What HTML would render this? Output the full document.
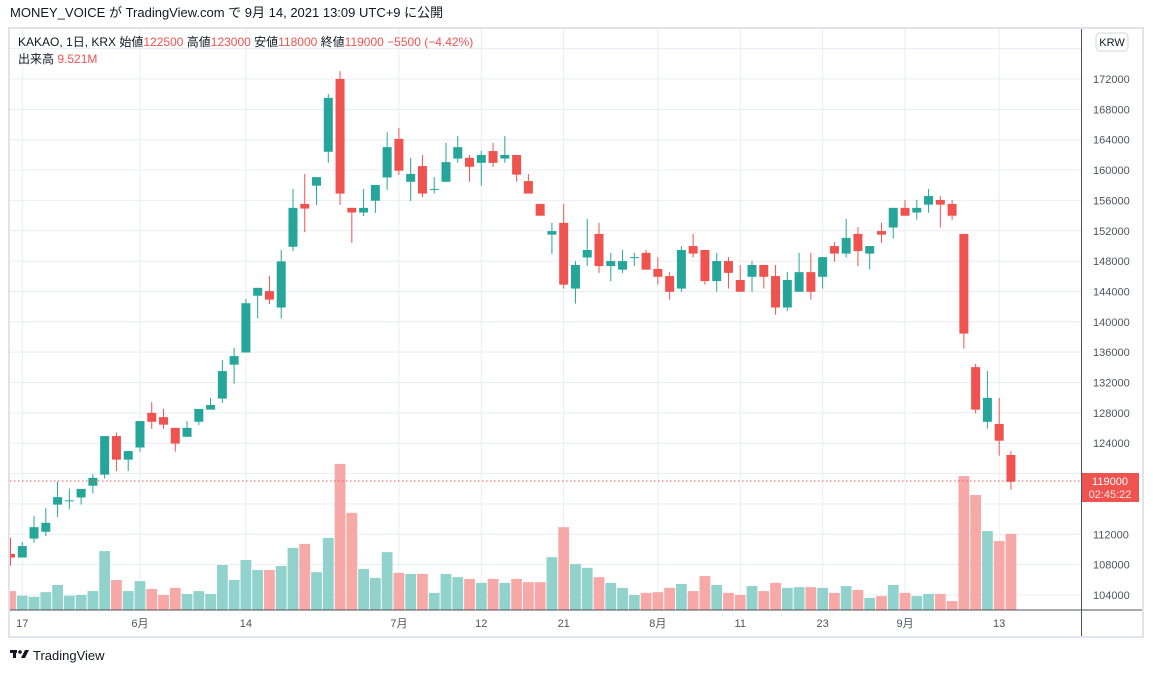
<!DOCTYPE html>
<html><head><meta charset="utf-8">
<style>
html,body{margin:0;padding:0;background:#fff;width:1153px;height:673px;overflow:hidden;font-family:"Liberation Sans","Noto Sans CJK JP",sans-serif;}
svg{position:absolute;left:0;top:0;}
</style></head><body>
<svg id="s" width="1153" height="673" xmlns="http://www.w3.org/2000/svg" font-family="Liberation Sans, Noto Sans CJK JP, sans-serif">
<rect x="0" y="0" width="1153" height="673" fill="#fff"/>
<text x="10" y="17" font-size="13" fill="#131722">MONEY_VOICE が TradingView.com で 9月 14, 2021 13:09 UTC+9 に公開</text>
<rect x="9" y="28" width="1134" height="609" fill="#fff" stroke="#e0e3eb" stroke-width="2"/>
<g id="grid"></g>
<g id="vol"></g>
<g id="candles"></g>
<line x1="10" y1="481" x2="1081" y2="481" stroke="#ef5350" stroke-width="1" stroke-dasharray="1.5,2.5"/>
<line x1="10" y1="610" x2="1142" y2="610" stroke="#50535e" stroke-width="1"/>
<line x1="1081.5" y1="29" x2="1081.5" y2="636" stroke="#50535e" stroke-width="1"/>
<g id="axis" font-size="11" fill="#50535e"></g>
<rect x="1096" y="33" width="32" height="18" rx="4" fill="#fff" stroke="#d1d4dc"/>
<text x="1112" y="46" font-size="11" fill="#131722" text-anchor="middle">KRW</text>
<rect x="1082" y="473" width="57" height="29" fill="#ef5350"/>
<text x="1110" y="485" font-size="11" fill="#fff" text-anchor="middle">119000</text>
<text x="1110" y="498" font-size="11" fill="#fde3e2" text-anchor="middle">02:45:22</text>
<text x="18" y="46" font-size="12" fill="#131722">KAKAO, 1日, KRX  <tspan>始値</tspan><tspan fill="#ef5350">122500</tspan>  高値<tspan fill="#ef5350">123000</tspan>  安値<tspan fill="#ef5350">118000</tspan>  終値<tspan fill="#ef5350">119000  −5500 (−4.42%)</tspan></text>
<text x="18" y="63" font-size="12" fill="#131722">出来高  <tspan fill="#ef5350">9.521M</tspan></text>
<g transform="translate(10,650)"><rect x="0" y="0" width="7" height="3" fill="#131722"/><rect x="3" y="0" width="3" height="8" fill="#131722"/><circle cx="10" cy="2" r="1.8" fill="#131722"/><polygon points="11,8 15,0 19,0 15,8" fill="#131722"/></g>
<text x="33" y="660" font-size="13" fill="#131722">TradingView</text>
</svg>
<script>
var d=[
[1383,1393,1338,1416,'r',1487],[1361,1393,1350,1393,'g',1500],[1308,1340,1277,1352,'g',1503],[1296,1321,1254,1333,'g',1490],
[1224,1245,1180,1280,'g',1470],[1233,1235,1200,1257,'g',1500],[1201,1225,1201,1245,'g',1498],[1170,1192,1160,1214,'g',1487],
[1053,1161,1053,1172,'g',1375],[1053,1119,1043,1151,'r',1456],[1095,1119,1095,1151,'g',1487],[1011,1085,1011,1097,'g',1459],
[988,1013,958,1033,'r',1481],[1000,1021,977,1033,'r',1498],[1030,1074,1030,1097,'r',1478],[1030,1055,1011,1055,'g',1495],
[977,1013,977,1022,'g',1487],[966,979,946,979,'g',1495],[871,948,840,960,'g',1414],[829,853,806,906,'g',1456],
[681,819,669,819,'g',1400],[638,660,638,724,'g',1428],[647,671,605,683,'r',1428],
[564,693,532,724,'g',1417],[414,523,361,535,'g',1366],[403,416,319,482,'r',1355],[328,352,328,406,'g',1434],
[106,257,95,288,'g',1338],[53,374,31,406,'r',1131],[414,427,414,512,'r',1268],[414,427,361,437,'g',1425],
[350,394,350,428,'g',1450],[244,329,202,364,'g',1378],[221,310,190,322,'r',1436],[319,341,274,395,'g',1439],
[297,374,266,384,'r',1439],[361,363,328,374,'g',1492],[286,341,232,341,'g',1439],[244,276,213,288,'g',1448],
[274,299,266,341,'r',1453],[266,288,255,352,'g',1464],[255,288,232,299,'r',1453],[266,276,213,288,'g',1464],
[266,321,266,341,'r',1453],[339,374,319,374,'r',1462],[403,436,403,436,'r',1462],
[479,489,456,543,'g',1392],[456,629,403,640,'r',1308],[574,640,563,682,'g',1411],[532,553,445,577,'g',1422],
[487,577,456,596,'r',1448],[563,577,540,619,'g',1464],[563,587,532,596,'g',1478],[552,553,540,577,'g',1498],
[540,587,532,587,'r',1492],[585,607,552,629,'r',1490],[605,649,594,671,'r',1478],[532,640,521,649,'g',1467],
[521,542,487,553,'r',1487],[532,619,532,629,'r',1445],[563,619,540,649,'g',1470],[563,596,552,640,'r',1492],
[616,649,574,649,'r',1498],[574,607,563,649,'g',1473],[574,607,574,640,'r',1487],[605,693,574,713,'r',1464],
[616,693,594,703,'g',1478],[594,649,540,649,'g',1476],
[594,649,540,671,'r',1476],[552,607,552,640,'g',1478],[521,542,510,565,'r',1492],[498,542,445,553,'g',1473],
[487,535,468,577,'r',1484],[521,542,521,587,'g',1506],[479,489,456,512,'r',1501],[414,469,414,500,'g',1470],
[414,436,392,436,'r',1492],[414,427,392,447,'g',1501],[381,405,361,428,'g',1495],[392,405,381,469,'r',1495],
[403,436,392,447,'r',1515],[487,766,487,808,'r',1165],[860,979,851,990,'r',1218],[946,1013,871,1032,'g',1319],
[1019,1066,946,1108,'r',1347],[1106,1181,1095,1203,'r',1327]];
function Y(z){return 60+z/2.8;}
function X(i){return 10.5+i*11.77;}
var NS='http://www.w3.org/2000/svg';
function el(g,t,a){var e=document.createElementNS(NS,t);for(var k in a)e.setAttribute(k,a[k]);document.getElementById(g).appendChild(e);return e;}
// horizontal grid
var prices=[];for(var p=176000;p>=104000;p-=4000)prices.push(p);
prices.forEach(function(p){var y=79+(172000-p)/4000*30.35;
 el('grid','line',{x1:10,y1:y,x2:1081,y2:y,stroke:'#e9eef3','stroke-width':1});
 if(p!=176000&&p!=120000&&p!=116000){var t=el('axis','text',{x:1093,y:y+4});t.textContent=p;}
});
var vl=[[1,'17'],[11,'6月'],[20,'14'],[33,'7月'],[40,'12'],[47,'21'],[55,'8月'],[62,'11'],[69,'23'],[76,'9月'],[84,'13']];
vl.forEach(function(v){var x=X(v[0]);el('grid','line',{x1:x,y1:29,x2:x,y2:610,stroke:'#e9eef3','stroke-width':1});
 var t=el('axis','text',{x:x,y:627,'text-anchor':'middle'});t.textContent=v[1];});
d.forEach(function(c,i){var x=X(i);var col=c[4]=='g'?'#26a69a':'#ef5350';var vc=c[4]=='g'?'#92d2cc':'#f7a9a7';
 var vt=Y(c[5]);var vx=Math.max(x-5.4,10);el('vol','rect',{x:vx,y:vt,width:x+5.4-vx,height:610-vt,fill:vc});
 el('candles','line',{x1:x,y1:Y(c[2]),x2:x,y2:Y(c[3]),stroke:col,'stroke-width':1});
 var t=Y(c[0]),b=Y(c[1]);var bx=Math.max(x-4.5,10);el('candles','rect',{x:bx,y:t,width:x+4.5-bx,height:Math.max(b-t,1),fill:col});
});
</script>
</body></html>
